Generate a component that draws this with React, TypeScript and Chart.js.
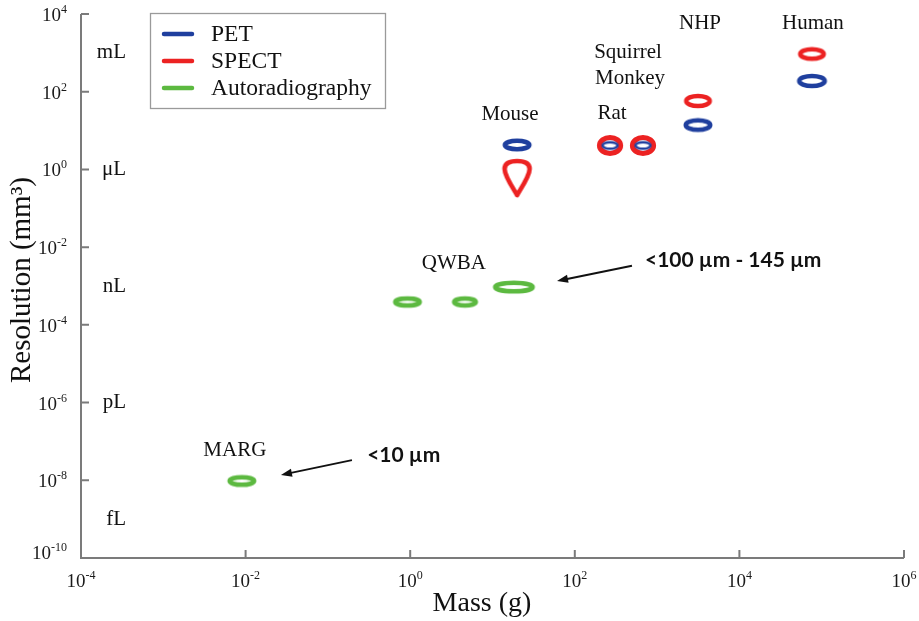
import React, { useEffect, useRef } from "react";
import { Chart, registerables } from "chart.js";

Chart.register(...registerables);

// ---- data: mass (g) vs. spatial resolution (mm³) per modality ----
const petMass = [19.9, 268, 674, 3140, 76200];
const petResolution = [4.26, 4.13, 4.13, 13.9, 189];

const spectMass = [19.9, 268, 674, 3140, 76200];
const spectResolution = [0.6, 4.13, 4.13, 57.7, 936];

const autoradMass = [0.927, 4.63, 18.2, 0.009];
const autoradResolution = [3.88e-4, 3.88e-4, 9.4e-4, 9.6e-9];

// ---- axis ticks (powers of ten) ----
const xTickExponents = [-4, -2, 0, 2, 4, 6];
const yTickExponents = [-10, -8, -6, -4, -2, 0, 2, 4];

// ---- volume units along the resolution axis ----
const unitNames = ["mL", "μL", "nL", "pL", "fL"];
const unitVolumes = [1e3, 1, 1e-3, 1e-6, 1e-9];
const unitLabelMass = 3.52e-4;

// ---- species / technique labels (anchored in data space) ----
const speciesNames = ["Mouse", "Rat", "Squirrel", "Monkey", "NHP", "Human", "QWBA", "MARG"];
const speciesLabelMass = [16.3, 283, 443, 469, 3320, 78300, 3.4, 7.4e-3];
const speciesLabelRes = [26.7, 28.3, 1052, 225, 5870, 5870, 3.9e-3, 6.0e-8];

// ---- call-outs with arrows ----
const calloutTexts = ["<100 µm - 145 µm", "<10 µm"];
const calloutTextMass = [713, 0.3];
const calloutTextRes = [4.7e-3, 4.5e-8];
const arrowFromMass = [495, 0.196];
const arrowFromRes = [3.3e-3, 3.3e-8];
const arrowToMass = [60.8, 0.0269];
const arrowToRes = [1.35e-3, 1.37e-8];

const legendNames = ["PET", "SPECT", "Autoradiography"];

const BLUE = "#1f3f9e";
const RED = "#ec2222";
const GREEN = "#5cb940";
const SERIF = '"Liberation Serif", "Times New Roman", serif';
const BOLD_SANS = 'Lato, "Liberation Sans", sans-serif';

// ---- marker shapes (sizes in px: [rx, ry, lineWidth]) ----
type Mark = { kind: "ellipse" | "drop"; rx: number; ry: number; lw: number };
const petMarks: Mark[] = [
  { kind: "ellipse", rx: 12.2, ry: 4.3, lw: 4.6 },
  { kind: "ellipse", rx: 7.5, ry: 3.3, lw: 2.6 },
  { kind: "ellipse", rx: 7.5, ry: 3.3, lw: 2.6 },
  { kind: "ellipse", rx: 12.2, ry: 4.8, lw: 4.6 },
  { kind: "ellipse", rx: 12.7, ry: 5, lw: 4.6 },
];
const spectMarks: Mark[] = [
  { kind: "drop", rx: 12.5, ry: 17, lw: 4.6 },
  { kind: "ellipse", rx: 10.5, ry: 8, lw: 5.2 },
  { kind: "ellipse", rx: 10.5, ry: 8, lw: 5.2 },
  { kind: "ellipse", rx: 11.7, ry: 5, lw: 4.6 },
  { kind: "ellipse", rx: 11.7, ry: 4.8, lw: 4.6 },
];
const autoradMarks: Mark[] = [
  { kind: "ellipse", rx: 12.2, ry: 3.5, lw: 4.6 },
  { kind: "ellipse", rx: 10.8, ry: 3.5, lw: 4.6 },
  { kind: "ellipse", rx: 18.7, ry: 4.3, lw: 4.6 },
  { kind: "ellipse", rx: 12.2, ry: 3.8, lw: 4.6 },
];

function makeMarkCanvas(m: Mark, color: string): HTMLCanvasElement {
  const pad = m.lw + 2;
  const c = document.createElement("canvas");
  c.width = Math.ceil(2 * (m.rx + pad));
  c.height = Math.ceil(2 * (m.ry + pad));
  const g = c.getContext("2d")!;
  const cx = c.width / 2;
  const cy = c.height / 2;
  g.strokeStyle = color;
  g.lineWidth = m.lw;
  g.lineJoin = "round";
  g.beginPath();
  if (m.kind === "ellipse") {
    g.ellipse(cx, cy, m.rx, m.ry, 0, 0, Math.PI * 2);
  } else {
    const w = m.rx;
    const h = m.ry;
    g.moveTo(cx, cy + h);
    g.bezierCurveTo(cx - 4, cy + h * 0.6, cx - w, cy - 2, cx - w, cy - h * 0.53);
    g.bezierCurveTo(cx - w, cy - h * 0.9, cx - w * 0.55, cy - h, cx, cy - h);
    g.bezierCurveTo(cx + w * 0.55, cy - h, cx + w, cy - h * 0.9, cx + w, cy - h * 0.53);
    g.bezierCurveTo(cx + w, cy - 2, cx + 4, cy + h * 0.6, cx, cy + h);
    g.closePath();
  }
  g.stroke();
  return c;
}

function drawPower(
  ctx: CanvasRenderingContext2D,
  exp: number,
  x: number,
  baseline: number,
  align: "center" | "right"
) {
  const base = "10";
  const sup = String(exp);
  ctx.font = `19px ${SERIF}`;
  const wb = ctx.measureText(base).width;
  ctx.font = `12px ${SERIF}`;
  const ws = ctx.measureText(sup).width;
  const total = wb + ws;
  const start = align === "center" ? x - total / 2 : x - total;
  ctx.textAlign = "left";
  ctx.textBaseline = "alphabetic";
  ctx.font = `19px ${SERIF}`;
  ctx.fillText(base, start, baseline);
  ctx.font = `12px ${SERIF}`;
  ctx.fillText(sup, start + wb, baseline - 8);
}

const overlayPlugin = {
  id: "overlay",
  afterDraw(chart: any) {
    const { ctx, chartArea: a } = chart;
    const xs = chart.scales.x;
    const ys = chart.scales.y;
    const px = (v: number) => xs.getPixelForValue(v);
    const py = (v: number) => ys.getPixelForValue(v);
    ctx.save();

    // axis lines with inward ticks
    ctx.strokeStyle = "#7b7b7b";
    ctx.lineWidth = 2;
    ctx.lineCap = "butt";
    ctx.beginPath();
    ctx.moveTo(a.left, a.top);
    ctx.lineTo(a.left, a.bottom);
    ctx.lineTo(a.right, a.bottom);
    xTickExponents.forEach((e) => {
      const x = px(Math.pow(10, e));
      ctx.moveTo(x, a.bottom);
      ctx.lineTo(x, a.bottom - 8);
    });
    yTickExponents.forEach((e) => {
      const y = py(Math.pow(10, e));
      ctx.moveTo(a.left, y);
      ctx.lineTo(a.left + 8, y);
    });
    ctx.stroke();

    // tick labels
    ctx.fillStyle = "#1a1a1a";
    xTickExponents.forEach((e) => {
      drawPower(ctx, e, px(Math.pow(10, e)), a.bottom + 29, "center");
    });
    yTickExponents.forEach((e) => {
      const y = Math.min(py(Math.pow(10, e)), a.bottom - 6);
      drawPower(ctx, e, a.left - 14, y + 7, "right");
    });

    // axis titles
    ctx.fillStyle = "#111";
    ctx.font = `28px ${SERIF}`;
    ctx.textAlign = "center";
    ctx.textBaseline = "middle";
    ctx.fillText("Mass (g)", 482, 604);
    ctx.save();
    ctx.translate(22, 280);
    ctx.rotate(-Math.PI / 2);
    ctx.font = `29px ${SERIF}`;
    ctx.fillText("Resolution (mm³)", 0, 0);
    ctx.restore();

    // volume units
    ctx.font = `21px ${SERIF}`;
    ctx.textAlign = "right";
    unitNames.forEach((n, i) => {
      ctx.fillText(n, px(unitLabelMass), py(unitVolumes[i]));
    });

    // species labels
    ctx.textAlign = "center";
    speciesNames.forEach((n, i) => {
      ctx.fillText(n, px(speciesLabelMass[i]), py(speciesLabelRes[i]));
    });

    // call-outs
    ctx.font = `bold 21px ${BOLD_SANS}`;
    ctx.textAlign = "left";
    calloutTexts.forEach((t, i) => {
      ctx.fillStyle = "#111";
      ctx.fillText(t, px(calloutTextMass[i]), py(calloutTextRes[i]));
      const x0 = px(arrowFromMass[i]);
      const y0 = py(arrowFromRes[i]);
      const x1 = px(arrowToMass[i]);
      const y1 = py(arrowToRes[i]);
      const ang = Math.atan2(y1 - y0, x1 - x0);
      const head = 11;
      ctx.strokeStyle = "#111";
      ctx.lineWidth = 2;
      ctx.beginPath();
      ctx.moveTo(x0, y0);
      ctx.lineTo(x1 - Math.cos(ang) * (head - 2), y1 - Math.sin(ang) * (head - 2));
      ctx.stroke();
      ctx.beginPath();
      ctx.moveTo(x1, y1);
      ctx.lineTo(
        x1 - head * Math.cos(ang) + 4 * Math.sin(ang),
        y1 - head * Math.sin(ang) - 4 * Math.cos(ang)
      );
      ctx.lineTo(
        x1 - head * Math.cos(ang) - 4 * Math.sin(ang),
        y1 - head * Math.sin(ang) + 4 * Math.cos(ang)
      );
      ctx.closePath();
      ctx.fill();
    });

    // legend box
    const lx = 150, ly = 13, lw = 235, lh = 95;
    ctx.fillStyle = "#fff";
    ctx.fillRect(lx, ly, lw, lh);
    ctx.strokeStyle = "#9a9a9a";
    ctx.lineWidth = 1.3;
    ctx.strokeRect(lx + 0.5, ly + 0.5, lw, lh);
    const colors = [BLUE, RED, GREEN];
    ctx.font = `23.5px ${SERIF}`;
    ctx.textAlign = "left";
    ctx.textBaseline = "middle";
    legendNames.forEach((n, i) => {
      const yy = 34 + i * 27;
      ctx.strokeStyle = colors[i];
      ctx.lineWidth = 4.5;
      ctx.lineCap = "round";
      ctx.beginPath();
      ctx.moveTo(164, yy);
      ctx.lineTo(192, yy);
      ctx.stroke();
      ctx.fillStyle = "#111";
      ctx.fillText(n, 211, yy + 1);
    });

    ctx.restore();
  },
};

export default function App() {
  const ref = useRef<HTMLCanvasElement>(null);

  useEffect(() => {
    if (!ref.current) return;
    const petImgs = petMarks.map((m) => makeMarkCanvas(m, BLUE));
    const spectImgs = spectMarks.map((m) => makeMarkCanvas(m, RED));
    const autoImgs = autoradMarks.map((m) => makeMarkCanvas(m, GREEN));

    const toPoints = (xs: number[], ys: number[]) => xs.map((x, i) => ({ x, y: ys[i] }));

    const chart = new Chart(ref.current, {
      type: "scatter",
      data: {
        datasets: [
          {
            label: "PET",
            data: toPoints(petMass, petResolution),
            pointStyle: (c: any) => petImgs[c.dataIndex],
            pointRadius: 5,
            order: 0,
          },
          {
            label: "SPECT",
            data: toPoints(spectMass, spectResolution),
            pointStyle: (c: any) => spectImgs[c.dataIndex],
            pointRadius: 5,
            order: 1,
          },
          {
            label: "Autoradiography",
            data: toPoints(autoradMass, autoradResolution),
            pointStyle: (c: any) => autoImgs[c.dataIndex],
            pointRadius: 5,
            order: 2,
          },
        ],
      },
      options: {
        animation: false,
        responsive: false,
        devicePixelRatio: 1,
        events: [],
        layout: { padding: { left: 81, right: 15, top: 14, bottom: 63 } },
        plugins: { legend: { display: false }, tooltip: { enabled: false } },
        scales: {
          x: {
            type: "logarithmic",
            min: 1e-4,
            max: 1e6,
            grid: { display: false },
            border: { display: false },
            ticks: { display: false },
            afterFit: (s: any) => {
              s.height = 0;
            },
          },
          y: {
            type: "logarithmic",
            min: 1e-10,
            max: 1e4,
            grid: { display: false },
            border: { display: false },
            ticks: { display: false },
            afterFit: (s: any) => {
              s.width = 0;
            },
          },
        },
      },
      plugins: [overlayPlugin],
    } as any);

    return () => chart.destroy();
  }, []);

  return (
    <div
      style={{
        position: "fixed",
        left: 0,
        top: 0,
        width: 919,
        height: 621,
        background: "#fff",
      }}
    >
      <canvas ref={ref} width={919} height={621} />
    </div>
  );
}
